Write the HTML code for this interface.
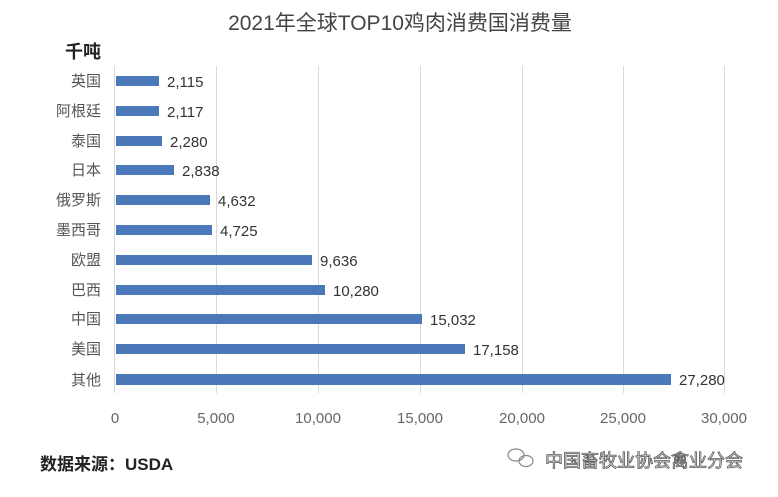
<!DOCTYPE html>
<html><head><meta charset="utf-8"><style>
body{margin:0;background:#fff;}
svg text{font-family:"Liberation Sans","Noto Sans CJK SC",sans-serif;}
</style></head><body>
<svg width="778" height="492" xmlns="http://www.w3.org/2000/svg">
<rect width="778" height="492" fill="#fff"/>
<text x="400" y="30" font-size="21" fill="#444" text-anchor="middle">2021年全球TOP10鸡肉消费国消费量</text>
<text x="83" y="58" font-size="18" font-weight="bold" fill="#222" text-anchor="middle">千吨</text>
<g stroke="#d9d9d9" stroke-width="1">
<line x1="114.5" y1="66" x2="114.5" y2="393"/>
<line x1="216.5" y1="66" x2="216.5" y2="393"/>
<line x1="318.5" y1="66" x2="318.5" y2="393"/>
<line x1="420.5" y1="66" x2="420.5" y2="393"/>
<line x1="522.5" y1="66" x2="522.5" y2="393"/>
<line x1="623.5" y1="66" x2="623.5" y2="393"/>
<line x1="724.5" y1="66" x2="724.5" y2="393"/>
</g>
<g font-size="15" fill="#666" text-anchor="middle">
<text x="115" y="423">0</text><text x="216" y="423">5,000</text><text x="318" y="423">10,000</text><text x="420" y="423">15,000</text><text x="522" y="423">20,000</text><text x="623" y="423">25,000</text><text x="724" y="423">30,000</text>
</g>
<g fill="#4a78b8">
<rect x="116" y="76" width="43" height="10"/>
<rect x="116" y="106" width="43" height="10"/>
<rect x="116" y="136" width="46" height="10"/>
<rect x="116" y="165" width="58" height="10"/>
<rect x="116" y="195" width="94" height="10"/>
<rect x="116" y="225" width="96" height="10"/>
<rect x="116" y="255" width="196" height="10"/>
<rect x="116" y="285" width="209" height="10"/>
<rect x="116" y="314" width="306" height="10"/>
<rect x="116" y="344" width="349" height="10"/>
<rect x="116" y="374" width="555" height="11"/>
</g>
<g font-size="15" fill="#555" text-anchor="end">
<text x="101" y="86">英国</text><text x="101" y="116">阿根廷</text><text x="101" y="146">泰国</text><text x="101" y="175">日本</text><text x="101" y="205">俄罗斯</text><text x="101" y="235">墨西哥</text><text x="101" y="265">欧盟</text><text x="101" y="295">巴西</text><text x="101" y="324">中国</text><text x="101" y="354">美国</text><text x="101" y="385">其他</text>
</g>
<g font-size="15" fill="#333">
<text x="167" y="87">2,115</text><text x="167" y="117">2,117</text><text x="170" y="147">2,280</text><text x="182" y="176">2,838</text><text x="218" y="206">4,632</text><text x="220" y="236">4,725</text><text x="320" y="266">9,636</text><text x="333" y="296">10,280</text><text x="430" y="325">15,032</text><text x="473" y="355">17,158</text><text x="679" y="385">27,280</text>
</g>
<text x="40" y="470" font-size="17" font-weight="bold" fill="#222">数据来源：USDA</text>
<g fill="none" stroke="#888" stroke-width="1.2">
<ellipse cx="516" cy="455" rx="8" ry="6"/><ellipse cx="526" cy="461" rx="7" ry="5.5"/>
</g>
<text x="545" y="467" font-size="18" fill="#fff" stroke="#555" stroke-width="0.8">中国畜牧业协会禽业分会</text>
</svg>
</body></html>
